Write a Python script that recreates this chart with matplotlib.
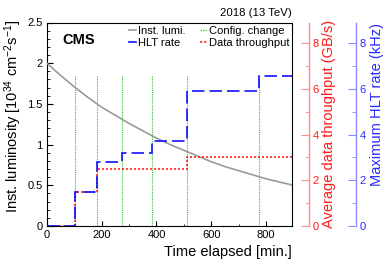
import matplotlib
matplotlib.use('Agg')
import matplotlib.pyplot as plt
from matplotlib.lines import Line2D
from matplotlib.ticker import MultipleLocator

plt.rcParams['font.family'] = ['Liberation Sans', 'DejaVu Sans']
plt.rcParams['mathtext.default'] = 'regular'

# instantaneous luminosity, read every 50 min
lumi_t = [0, 50, 100, 150, 200, 250, 300, 350, 400, 450, 500, 550, 600, 650, 700, 750, 800, 850, 900]
lumi = [2.00, 1.85, 1.71, 1.58, 1.46, 1.36, 1.26, 1.17, 1.08, 1.00, 0.93, 0.86, 0.79, 0.73, 0.68, 0.63, 0.58, 0.54, 0.50]

# configuration changes [min]
config_t = [103, 184, 275, 382, 510, 774]

# step edges and levels
hlt_edges = [0, 103, 184, 275, 382, 510, 774, 895]
hlt_rate = [0, 1.50, 2.79, 3.18, 3.72, 5.91, 6.57]          # kHz
thr_edges = [0, 103, 184, 510, 895]
throughput = [0, 1.50, 2.50, 3.00]                            # GB/s

W, H = 390, 266
x0, x1, y0, y1 = 46.9, 292.0, 226.0, 22.5
fig = plt.figure(figsize=(W / 100, H / 100), dpi=100)
ax = fig.add_axes([x0 / W, 1 - y0 / H, (x1 - x0) / W, (y0 - y1) / H])

rmax = 8.9
green = '#33c033'
ax.plot(lumi_t, lumi, color='#9a9a9a', lw=1.2, zorder=3)
for t in config_t:
    ax.plot([t, t], [0, 6.57 / rmax * 2.5], color=green, lw=0.8, dashes=(1, 1), zorder=2)

ax.set_xlim(0, 895)
ax.set_ylim(0, 2.5)
ax.xaxis.set_major_locator(MultipleLocator(200))
ax.xaxis.set_minor_locator(MultipleLocator(100))
ax.yaxis.set_major_locator(MultipleLocator(0.5))
ax.yaxis.set_minor_locator(MultipleLocator(0.1))
ax.set_yticks([0, 0.5, 1, 1.5, 2, 2.5])
ax.set_yticklabels(['0', '0.5', '1', '1.5', '2', '2.5'])
ax.tick_params(axis='x', which='major', direction='in', length=3.3, labelsize=8, pad=3)
ax.tick_params(axis='x', which='minor', direction='in', length=1.7)
ax.tick_params(axis='y', which='major', direction='in', length=4.5, labelsize=8, pad=3)
ax.tick_params(axis='y', which='minor', direction='in', length=2.2)
for s in ax.spines.values():
    s.set_linewidth(0.8)

ax.set_xlabel('Time elapsed [min.]', fontsize=10.5, loc='right')
ax.xaxis.label.set_va('center')
ax.xaxis.set_label_coords(1.0, -0.128)
ax.set_ylabel('Inst. luminosity [10$^{34}$ cm$^{-2}$s$^{-1}$]', fontsize=10.5, loc='top')
ax.yaxis.label.set_va('center')
ax.yaxis.set_label_coords(-0.136, 1.012)

# right axes: throughput (red) and HLT rate (blue)
def right_axis(pos, spine_col, text_col, label, lab_x, lab_y):
    a = ax.twinx()
    a.set_ylim(0, rmax)
    for k in ['top', 'bottom', 'left']:
        a.spines[k].set_visible(False)
    a.spines['right'].set_position(('axes', pos))
    a.spines['right'].set_color(spine_col)
    a.spines['right'].set_linewidth(1.0)
    a.yaxis.set_major_locator(MultipleLocator(2))
    a.yaxis.set_minor_locator(MultipleLocator(1))
    a.tick_params(axis='y', which='major', direction='in', length=5.5, color=spine_col,
                  labelcolor=text_col, labelsize=8, pad=2.5)
    a.tick_params(axis='y', which='minor', direction='in', length=3, color=spine_col)
    a.set_ylabel(label, color=text_col, fontsize=10.5, loc='top')
    a.yaxis.label.set_va('center')
    a.yaxis.set_label_coords(lab_x, lab_y)
    return a

ax_r = right_axis((309.3 - x0) / (x1 - x0), '#ff8c8c', '#ff1a1a',
                  'Average data throughput (GB/s)', (329.5 - x0) / (x1 - x0), 1.012)
ax_b = right_axis((356.0 - x0) / (x1 - x0), '#8c8cff', '#2a2aff',
                  'Maximum HLT rate (kHz)', (377.5 - x0) / (x1 - x0), 0.998)

ax_b.stairs(hlt_rate, hlt_edges, color='#1010ff', lw=1.2, linestyle=(0, (7.5, 3)), zorder=4,
            baseline=None)
ax_r.stairs(throughput, thr_edges, color='#ff2020', lw=1.2, linestyle=(0, (1.2, 1.2)), zorder=5,
            baseline=None)
ax_r.set_xlim(0, 895)
ax_b.set_xlim(0, 895)

handles = [
    Line2D([], [], color='#9a9a9a', lw=1.2),
    Line2D([], [], color='#1010ff', lw=1.2),
    Line2D([], [], color=green, lw=0.9, dashes=(1, 1)),
    Line2D([], [], color='#ff2020', lw=1.1, dashes=(1.5, 1.2)),
]
labels = ['Inst. lumi.', 'HLT rate', 'Config. change', 'Data throughput']
ax_b.legend(handles, labels, ncol=2, frameon=False, fontsize=8,
            loc='upper left', bbox_to_anchor=(129 / W, 1 - 25.5 / H),
            bbox_transform=fig.transFigure, borderpad=0, borderaxespad=0,
            handlelength=0.65, handletextpad=0.2, columnspacing=1.25, labelspacing=0.2)

fig.text(62 / W, 1 - 40.5 / H, 'CMS', fontsize=10.5, fontweight='bold', va='center', ha='left')
fig.text(291.7 / W, 1 - 13 / H, '2018 (13 TeV)', fontsize=8.2, va='center', ha='right')

fig.savefig('out.png', dpi=100)
